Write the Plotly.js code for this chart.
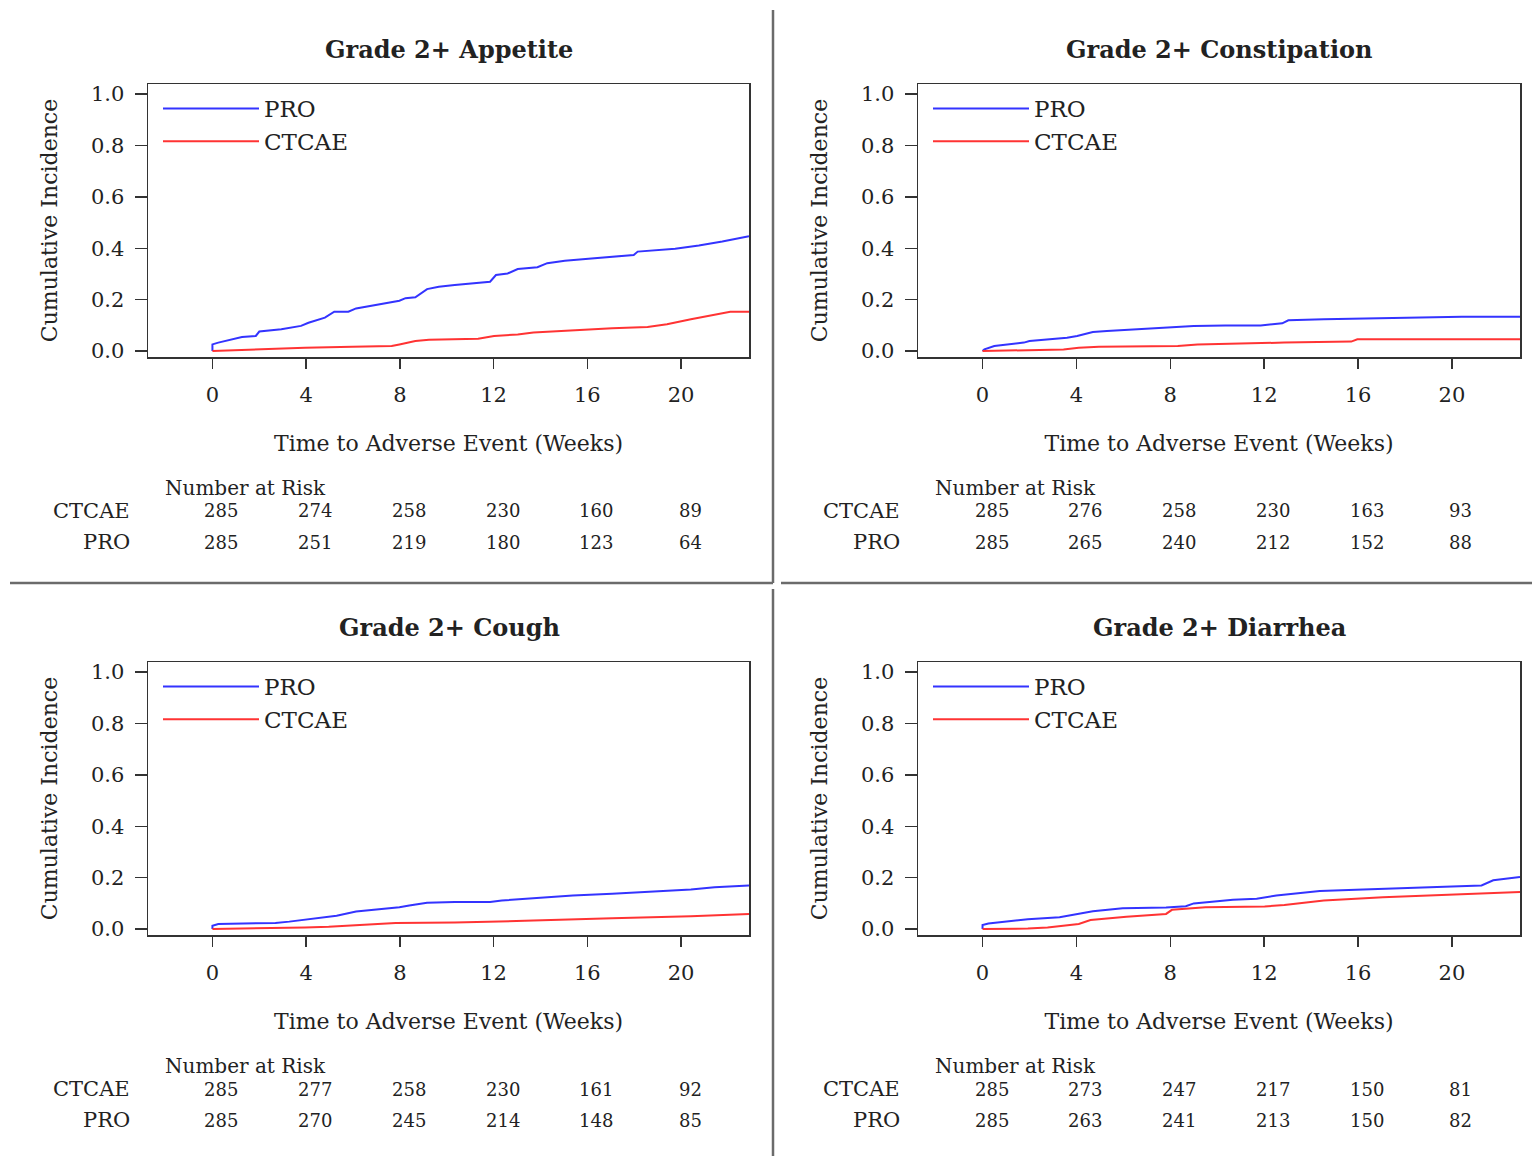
<!DOCTYPE html>
<html>
<head>
<meta charset="utf-8">
<script src="https://cdn.plot.ly/plotly-3.0.1.min.js"></script>
<style>html,body{margin:0;padding:0;background:#fff;}#chart{width:1532px;height:1156px;}</style>
</head>
<body>
<div id="chart"></div>
<script>
// ---------- data ----------
const panelTitles = ["Grade 2+ Appetite", "Grade 2+ Constipation", "Grade 2+ Cough", "Grade 2+ Diarrhea"];
const seriesNames = ["PRO", "CTCAE"];
const weekTicks = [0, 4, 8, 12, 16, 20];
const yTicks = [0.0, 0.2, 0.4, 0.6, 0.8, 1.0];

const appetiteProT = [0, 0, 0.25, 1.26, 1.85, 2.0, 2.94, 3.78, 4.1, 4.8, 5.2, 5.8, 6.13, 6.97, 7.98, 8.24, 8.66, 9.16, 9.66, 10.34, 11.34, 11.85, 12.1, 12.6, 13.03, 13.87, 14.29, 15.04, 16.05, 17.06, 17.98, 18.15, 18.74, 19.75, 20.76, 21.76, 22.9];
const appetiteProY = [0, 0.026, 0.033, 0.055, 0.059, 0.076, 0.085, 0.098, 0.11, 0.13, 0.153, 0.153, 0.166, 0.179, 0.196, 0.206, 0.209, 0.241, 0.25, 0.257, 0.265, 0.27, 0.296, 0.302, 0.319, 0.326, 0.342, 0.351, 0.359, 0.368, 0.374, 0.387, 0.391, 0.398, 0.411, 0.426, 0.447];
const appetiteCtT = [0, 1.93, 3.95, 5.97, 7.65, 7.98, 8.66, 9.24, 11.34, 12.02, 13.03, 13.7, 15.38, 17.06, 18.57, 19.4, 20.42, 21.43, 22.1, 22.9];
const appetiteCtY = [0, 0.0065, 0.013, 0.017, 0.02, 0.026, 0.039, 0.044, 0.048, 0.059, 0.065, 0.072, 0.081, 0.089, 0.094, 0.104, 0.124, 0.143, 0.153, 0.153];

const constipProT = [0, 0.08, 0.5, 1.76, 2.0, 2.94, 3.6, 4.03, 4.7, 5.3, 6.97, 8.66, 9.0, 10.34, 11.85, 12.77, 13.03, 14.54, 17.06, 20.42, 22.9];
const constipProY = [0, 0.0065, 0.02, 0.033, 0.039, 0.046, 0.052, 0.059, 0.074, 0.078, 0.087, 0.094, 0.098, 0.1, 0.1, 0.108, 0.12, 0.124, 0.128, 0.134, 0.134];
const constipCtT = [0, 1.93, 3.45, 4.1, 4.96, 8.32, 9.16, 12.86, 15.71, 15.97, 22.9];
const constipCtY = [0, 0.003, 0.0065, 0.013, 0.017, 0.02, 0.026, 0.033, 0.037, 0.046, 0.046];

const coughProT = [0, 0, 0.25, 2.69, 3.28, 4.03, 4.45, 5.04, 5.3, 6.13, 6.97, 7.98, 8.4, 9.16, 10.34, 11.85, 12.35, 13.7, 15.38, 17.06, 18.74, 20.42, 21.43, 22.9];
const coughProY = [0, 0.013, 0.02, 0.024, 0.029, 0.037, 0.043, 0.048, 0.052, 0.068, 0.075, 0.085, 0.092, 0.102, 0.105, 0.105, 0.111, 0.12, 0.131, 0.137, 0.146, 0.154, 0.163, 0.17];
const coughCtT = [0, 2.77, 3.95, 4.96, 5.63, 6.3, 7.82, 10.34, 12.02, 13.7, 17.06, 20.42, 22.9];
const coughCtY = [0, 0.003, 0.0065, 0.009, 0.012, 0.017, 0.024, 0.026, 0.029, 0.033, 0.042, 0.05, 0.059];

const diarrProT = [0, 0, 0.25, 1.26, 1.93, 3.28, 4.1, 4.7, 5.97, 7.82, 8.66, 9.0, 10.67, 11.68, 12.52, 14.03, 14.37, 16.22, 17.9, 19.58, 21.26, 21.76, 22.9];
const diarrProY = [0, 0.016, 0.022, 0.033, 0.038, 0.046, 0.059, 0.069, 0.081, 0.084, 0.089, 0.1, 0.114, 0.118, 0.131, 0.144, 0.148, 0.154, 0.159, 0.166, 0.17, 0.19, 0.203];
const diarrCtT = [0, 1.93, 2.77, 4.1, 4.6, 6.13, 7.82, 8.07, 9.5, 12.02, 12.86, 14.54, 17.06, 19.58, 21.26, 22.9];
const diarrCtY = [0, 0.002, 0.0065, 0.02, 0.035, 0.048, 0.059, 0.075, 0.085, 0.088, 0.094, 0.111, 0.124, 0.133, 0.141, 0.144];

// number at risk, at weeks 0,4,8,12,16,20
const riskAppetiteCtcae = [285, 274, 258, 230, 160, 89];
const riskAppetitePro   = [285, 251, 219, 180, 123, 64];
const riskConstipCtcae  = [285, 276, 258, 230, 163, 93];
const riskConstipPro    = [285, 265, 240, 212, 152, 88];
const riskCoughCtcae    = [285, 277, 258, 230, 161, 92];
const riskCoughPro      = [285, 270, 245, 214, 148, 85];
const riskDiarrCtcae    = [285, 273, 247, 217, 150, 81];
const riskDiarrPro      = [285, 263, 241, 213, 150, 82];

// ---------- layout helpers ----------
const W = 1532, H = 1156;
const px = x => x / W;
const py = y => 1 - y / H;
const FONT = "DejaVu Serif";
const BLUE = "rgb(51,51,255)";
const RED = "rgb(255,51,51)";

const panels = [
  {pro: [appetiteProT, appetiteProY], ct: [appetiteCtT, appetiteCtY], risk: [riskAppetiteCtcae, riskAppetitePro], x0: 148, x1: 749, y0: 84, y1: 357, dx: 0, dy: 0},
  {pro: [constipProT, constipProY], ct: [constipCtT, constipCtY], risk: [riskConstipCtcae, riskConstipPro], x0: 918, x1: 1520, y0: 84, y1: 357, dx: 770, dy: 0},
  {pro: [coughProT, coughProY], ct: [coughCtT, coughCtY], risk: [riskCoughCtcae, riskCoughPro], x0: 148, x1: 749, y0: 662, y1: 935, dx: 0, dy: 578},
  {pro: [diarrProT, diarrProY], ct: [diarrCtT, diarrCtY], risk: [riskDiarrCtcae, riskDiarrPro], x0: 918, x1: 1520, y0: 662, y1: 935, dx: 770, dy: 578}
];

const traces = [];
const layout = {
  width: W, height: H,
  margin: {l: 0, r: 0, t: 0, b: 0},
  paper_bgcolor: "#fff", plot_bgcolor: "#fff",
  font: {family: FONT, size: 21, color: "#222"},
  annotations: [], shapes: [],
  showlegend: true
};

panels.forEach((p, i) => {
  const n = i + 1;
  const xa = n === 1 ? "x" : "x" + n;
  const ya = n === 1 ? "y" : "y" + n;
  const lg = n === 1 ? "legend" : "legend" + n;
  traces.push({x: p.pro[0], y: p.pro[1], type: "scatter", mode: "lines", name: seriesNames[0],
    line: {color: BLUE, width: 2}, xaxis: xa, yaxis: ya, legend: lg});
  traces.push({x: p.ct[0], y: p.ct[1], type: "scatter", mode: "lines", name: seriesNames[1],
    line: {color: RED, width: 2}, xaxis: xa, yaxis: ya, legend: lg});

  layout[n === 1 ? "xaxis" : "xaxis" + n] = {
    domain: [px(p.x0), px(p.x1)], anchor: ya, range: [-2.75, 22.9],
    tickmode: "array", tickvals: weekTicks, ticks: "outside", ticklen: 10, tickwidth: 1.5, tickcolor: "#333",
    ticklabelstandoff: 8,
    showline: true, mirror: true, linecolor: "#333", linewidth: 1.5, showgrid: false, zeroline: false,
    tickfont: {family: FONT, size: 21, color: "#222"},
    title: {text: "Time to Adverse Event (Weeks)", standoff: 30, font: {family: FONT, size: 22, color: "#222"}}
  };
  layout[n === 1 ? "yaxis" : "yaxis" + n] = {
    domain: [py(p.y1), py(p.y0)], anchor: xa, range: [-0.023, 1.039],
    tickmode: "array", tickvals: yTicks, tickformat: ".1f", ticks: "outside", ticklen: 12, tickwidth: 1.5, tickcolor: "#333",
    ticklabelstandoff: 6,
    showline: true, mirror: true, linecolor: "#333", linewidth: 1.5, showgrid: false, zeroline: false,
    tickfont: {family: FONT, size: 21, color: "#222"},
    title: {text: "Cumulative Incidence", standoff: 27, font: {family: FONT, size: 22, color: "#222"}}
  };
  layout[lg] = {
    x: px(p.x0 + 10), y: py(p.y0 + 3), xref: "paper", yref: "paper", xanchor: "left", yanchor: "top",
    bgcolor: "rgba(0,0,0,0)", borderwidth: 0, itemwidth: 96, tracegroupgap: 0,
    font: {family: FONT, size: 23, color: "#222"}
  };

  // panel title
  layout.annotations.push({text: "<b>" + panelTitles[i] + "</b>", x: px(449 + p.dx), y: py(49 + p.dy),
    xref: "paper", yref: "paper", xanchor: "center", yanchor: "middle", showarrow: false,
    font: {family: FONT, size: 24, color: "#222"}});
  // risk table
  layout.annotations.push({text: "Number at Risk", x: px(163 + p.dx), y: py(488 + p.dy), xref: "paper", yref: "paper",
    xanchor: "left", yanchor: "middle", showarrow: false, font: {family: FONT, size: 20, color: "#222"}});
  [["CTCAE", 511], ["PRO", 542]].forEach(([lab, yy], r) => {
    layout.annotations.push({text: lab, x: px(132 + p.dx), y: py(yy + p.dy), xref: "paper", yref: "paper",
      xanchor: "right", yanchor: "middle", showarrow: false, font: {family: FONT, size: 21, color: "#222"}});
    weekTicks.forEach((w, k) => {
      layout.annotations.push({text: String(p.risk[r][k]), x: w, xshift: 9, y: py(yy + p.dy), xref: xa, yref: "paper",
        xanchor: "center", yanchor: "middle", showarrow: false, font: {family: FONT, size: 18, color: "#222"}});
    });
  });
});

// panel divider lines
const divColor = "#6b6b6b";
layout.shapes.push(
  {type: "line", xref: "paper", yref: "paper", x0: px(773), x1: px(773), y0: py(10), y1: py(583), line: {color: divColor, width: 2.5}},
  {type: "line", xref: "paper", yref: "paper", x0: px(10), x1: px(773), y0: py(583), y1: py(583), line: {color: divColor, width: 2.5}},
  {type: "line", xref: "paper", yref: "paper", x0: px(781), x1: px(1532), y0: py(583), y1: py(583), line: {color: divColor, width: 2.5}},
  {type: "line", xref: "paper", yref: "paper", x0: px(773), x1: px(773), y0: py(589), y1: py(1156), line: {color: divColor, width: 2.5}}
);

Plotly.newPlot("chart", traces, layout, {displayModeBar: false, staticPlot: true});
</script>
</body>
</html>
